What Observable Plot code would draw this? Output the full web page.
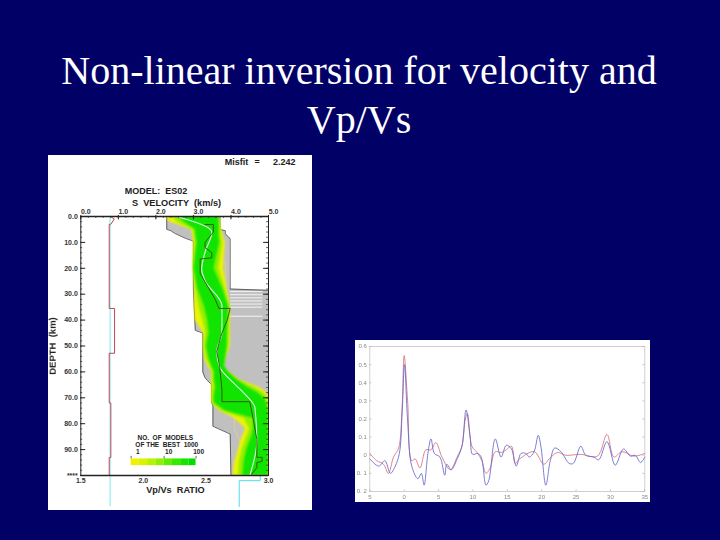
<!DOCTYPE html>
<html>
<head>
<meta charset="utf-8">
<script src="https://cdn.jsdelivr.net/npm/d3@7"></script>
<script src="https://cdn.jsdelivr.net/npm/@observablehq/plot@0.6"></script>
<style>
  html, body { margin: 0; padding: 0; background: #000066; overflow: hidden; }
  #page { position: relative; width: 720px; height: 540px; background: #000066; }
  #title {
    position: absolute; left: -1px; top: 46px; width: 720px; text-align: center;
    color: #fff; font-family: "Liberation Serif", serif; font-size: 40px; line-height: 49px;
  }
  #model, #wave { position: absolute; background: #fff; }
  #model { left: 48px; top: 155px; }
  #wave { left: 355px; top: 340px; }
  #model svg, #wave svg { display: block; filter: blur(0.45px); }
</style>
</head>
<body>
<div id="page">
  <div id="title">Non-linear inversion for velocity and<br>Vp/Vs</div>
  <div id="model"></div>
  <div id="wave"></div>
</div>
<script>
// grey envelope of all accepted models (km/s against depth)
const greyDepth = [0, 5, 5.5, 6.5, 7.5, 8.5, 9.5, 28, 28.5, 44, 45, 60, 62, 63, 65, 72, 73, 81, 82, 84, 100];
const greyLo = [2.29, 2.29, 2.4, 2.5, 2.65, 2.8, 3.0, 3.0, 3.0, 3.05, 3.25, 3.25, 3.3, 3.35, 3.49, 3.49, 3.52, 3.52, 3.67, 3.98, 4.0];
const greyHi = [3.71, 3.71, 3.85, 3.85, 3.9, 3.98, 3.98, 3.98, 5, 5, 5, 5, 5, 5, 5, 5, 5, 5, 5, 5, 5];
const streakDepths = [29, 30.2, 31.4, 32.6, 33.8, 35, 38.5];

// density bands of the best 1000 models
const bandDepth = [0, 2, 5, 8, 10, 20, 28, 35, 40, 45, 50, 55, 58, 60, 63, 66, 68, 70, 72, 75, 78, 82, 85, 90, 95, 100];
const yellowLo = [2.29, 2.35, 2.95, 3.0, 3.0, 3.0, 3.03, 3.03, 3.05, 3.27, 3.27, 3.3, 3.4, 3.5, 3.49, 3.49, 3.49, 3.49, 3.49, 3.7, 4.1, 4.4, 4.3, 4.2, 4.1, 4.05];
const yellowHi = [3.71, 3.71, 3.75, 3.8, 3.85, 3.8, 3.9, 3.98, 3.98, 3.98, 3.98, 3.85, 3.78, 3.9, 4.2, 4.75, 4.95, 5, 5, 5, 5, 5, 5, 5, 5, 5];
const limeLo = [2.45, 2.55, 3.0, 3.03, 3.05, 3.0, 3.06, 3.15, 3.25, 3.33, 3.29, 3.35, 3.45, 3.52, 3.52, 3.53, 3.52, 3.52, 3.52, 3.75, 4.35, 4.5, 4.42, 4.3, 4.22, 4.2];
const limeHi = [3.7, 3.7, 3.72, 3.74, 3.78, 3.68, 3.85, 3.97, 3.95, 3.95, 3.94, 3.85, 3.82, 3.93, 4.2, 4.62, 4.85, 4.98, 5, 5, 5, 5, 5, 5, 5, 5];
const greenLo = [2.6, 2.75, 3.05, 3.08, 3.1, 3.02, 3.12, 3.3, 3.38, 3.42, 3.35, 3.42, 3.5, 3.56, 3.56, 3.6, 3.57, 3.55, 3.56, 3.85, 4.6, 4.6, 4.55, 4.42, 4.35, 4.32];
const greenHi = [3.68, 3.68, 3.68, 3.68, 3.7, 3.55, 3.78, 3.94, 3.92, 3.9, 3.9, 3.85, 3.83, 3.93, 4.15, 4.45, 4.7, 4.88, 4.95, 5, 5, 5, 5, 5, 5, 5];

// best fitting model and stepped starting model
const bestVs = [2.56, 3.49, 3.31, 3.22, 3.31, 3.76, 3.76, 3.62, 3.71, 4.02, 4.38, 4.64, 4.69, 4.51];
const bestDepth = [0, 6, 13.8, 20.3, 24.8, 34.5, 44.9, 52, 58.4, 63.6, 68.7, 73.9, 86.8, 99.7];
const stepVs = [3.31, 3.53, 3.53, 3.31, 3.31, 3.49, 3.49, 3.18, 3.18, 3.18, 3.58, 3.68, 3.98, 3.9, 3.76, 3.62, 3.7, 3.76, 3.76, 4.5, 4.55, 4.69, 4.69, 4.83, 4.83, 4.69, 4.69, 4.55];
const stepDepth = [3.1, 3.1, 6, 10, 12, 14, 16, 16.4, 20, 22, 32, 35.5, 35.5, 40, 45, 52, 58, 67, 71.5, 71.5, 75, 86, 93, 93, 94.5, 95, 97, 99.5];

// Vp/Vs steps, plotted on the shared width of the frame
const ratioValue = [1.74, 1.767, 1.74, 1.727, 1.727, 1.77, 1.77, 1.727, 1.727, 1.74, 1.74, 1.727, 1.727];
const ratioDepth = [0, 1, 3, 3, 35.5, 35.5, 52.8, 52.8, 72, 72, 93, 93, 100];

// waveforms, right panel
const timeRed = [-5, -4, -3, -2.3, -1.55, -0.8, -0.3, 0, 0.5, 1.1, 1.6, 2.3, 3.15, 3.9, 4.6, 5.5, 6.7, 7.7, 8.4, 8.9, 9.2, 9.85, 10.6, 11.3, 11.9, 12.5, 13.25, 14.1, 14.85, 15.6, 16.15, 16.8, 18.9, 20.3, 21.1, 22.3, 23.5, 25.7, 28.1, 29.5, 30.5, 31.7, 33.4, 35];
const ampRed = [0.01, -0.03, -0.05, -0.1, -0.01, 0.04, 0.27, 0.55, 0.3, -0.03, -0.02, -0.07, 0.03, 0.03, 0.07, -0.01, -0.08, -0.01, 0.05, 0.2, 0.23, 0.05, 0.015, -0.03, -0.1, -0.07, 0.02, 0.015, 0.03, 0.05, -0.045, -0.02, 0.02, -0.05, -0.02, 0.015, 0, 0.005, -0.005, 0.115, -0.01, 0.02, -0.005, 0.01];
const timeBlue = [-5, -3.7, -2.8, -2, -1.3, -0.7, -0.3, 0.05, 0.5, 1.1, 2, 2.5, 2.9, 3.45, 3.9, 4.4, 5.2, 5.9, 6.2, 6.85, 7.7, 8.4, 9, 9.6, 9.95, 10.7, 11.2, 11.9, 12.3, 13.25, 14.1, 14.85, 15.6, 16.3, 17, 17.7, 18.2, 18.9, 19.5, 19.9, 20.6, 21.25, 21.9, 22.8, 24, 24.6, 25.7, 26.4, 27.6, 28.3, 29.5, 30.7, 31.9, 32.9, 33.6, 34.4, 35];
const ampBlue = [-0.02, -0.06, -0.03, -0.1, -0.06, 0.01, 0.23, 0.5, 0.19, -0.06, -0.13, -0.1, -0.165, 0.01, 0.09, 0.01, -0.01, -0.11, -0.05, -0.08, -0.02, 0.05, 0.25, 0.1, 0.005, 0.01, -0.01, -0.165, -0.14, 0.09, -0.01, 0.055, 0.035, -0.06, 0.01, 0.01, -0.01, 0.02, 0.11, 0.045, -0.165, -0.03, 0.04, 0.02, -0.045, -0.045, 0.05, 0, -0.01, -0.025, 0.075, -0.055, 0.035, -0.005, 0, -0.04, -0.01];
const waveTimeTicks = [-5, 0, 5, 10, 15, 20, 25, 30, 35];
const waveTimeLabels = ["5", "0", "5", "10", "15", "20", "25", "30", "35"];
const waveAmpTicks = [0.6, 0.5, 0.4, 0.3, 0.2, 0.1, 0, -0.1, -0.2];
const waveAmpLabels = ["0.6", "0.5", "0.4", "0.3", "0.2", "0.1", "0", "0. 1", "0. 2"];

// legend bar, yellow to green
const legendStops = [1.34, 1.56, 1.78, 2.0, 2.22, 2.44, 2.66, 2.88, 3.07];
const legendColors = ["#f0f000", "#d8f400", "#b4f400", "#8cf000", "#60ec00", "#38e800", "#18e400", "#00e000"];

const velocityTicks = [0, 1, 2, 3, 4, 5];
const ratioTicks = [1.5, 2, 2.5, 3];
const depthTicks = [0, 10, 20, 30, 40, 50, 60, 70, 80, 90, 100];

const band = (lo, hi) => bandDepth.map((d, i) => ({ d, lo: lo[i], hi: hi[i] }));
const path = (xs, ys) => xs.map((x, i) => ({ x, y: ys[i] }));
const ratioToX = (r) => (r - 1.5) / 1.5 * 5;
const sans = "'Liberation Sans', Arial, sans-serif";

const greyRows = greyDepth.map((d, i) => ({ d, lo: greyLo[i], hi: greyHi[i] }));
const label = (x, y, text, size, extra) =>
  Plot.text([text], Object.assign({ x: () => x, y: () => y, text: (t) => t, fontSize: size, fontWeight: 700, fill: "#222" }, extra));

const model = Plot.plot({
  width: 264,
  height: 355,
  marginLeft: 32.3,
  marginRight: 44,
  marginTop: 61,
  marginBottom: 35,
  style: { background: "#fff", fontFamily: sans, overflow: "visible" },
  x: { domain: [0, 5], axis: null },
  y: { domain: [0, 100], reverse: true, axis: null },
  marks: [
    // grey envelope
    Plot.areaX(greyRows, { x1: "lo", x2: "hi", y: "d", fill: "#c0c0c0", curve: "linear" }),
    Plot.ruleY(streakDepths, { x1: 3.99, x2: 4.85, stroke: "#f4f4f4", strokeWidth: 1 }),
    Plot.line(greyRows, { x: "lo", y: "d", stroke: "#333", strokeWidth: 0.7 }),
    Plot.line(greyRows.filter((r) => r.d <= 28.5), { x: "hi", y: "d", stroke: "#333", strokeWidth: 0.7 }),
    Plot.ruleX([5], { y1: 28.5, y2: 71, stroke: "#444", strokeWidth: 0.8 }),

    // pale outlines left inside the envelope
    Plot.line(path([3.62, 3.85, 3.85, 3.62, 3.62], [17.7, 17.7, 28, 28, 17.7]), { x: "x", y: "y", stroke: "#e8d870", strokeWidth: 0.7 }),
    Plot.line(path([4.09, 4.47, 4.47, 4.25, 4.09, 4.09], [77.5, 77.5, 81, 87, 82, 77.5]), { x: "x", y: "y", stroke: "#e8d870", strokeWidth: 0.7 }),

    // density bands, softened after the plot is built
    Plot.areaX(band(yellowLo, yellowHi), { x1: "lo", x2: "hi", y: "d", fill: "#ecf400", clip: "frame" }),
    Plot.areaX(band(limeLo, limeHi), { x1: "lo", x2: "hi", y: "d", fill: "#90f000", clip: "frame" }),
    Plot.areaX(band(greenLo, greenHi), { x1: "lo", x2: "hi", y: "d", fill: "#10e400", clip: "frame" }),

    // model lines
    Plot.line(path(bestVs, bestDepth), { x: "x", y: "y", stroke: "#d4ffe8", strokeWidth: 1.1, curve: "monotone-y" }),
    Plot.line(path(stepVs, stepDepth), { x: "x", y: "y", stroke: "#3f4a12", strokeWidth: 0.9 }),

    // Vp/Vs steps and the cyan reference lines
    Plot.ruleX([0.78], { y1: 0, y2: 112, stroke: "#7fe8f0", strokeWidth: 1 }),
    Plot.line(path(ratioValue.map(ratioToX), ratioDepth), { x: "x", y: "y", stroke: "#b84a50", strokeWidth: 1 }),
    Plot.line(path([4.22, 4.22, 4.78, 4.78], [112, 102, 102, 100]), { x: "x", y: "y", stroke: "#52dcef", strokeWidth: 1 }),

    // frame and inward ticks
    Plot.frame({ stroke: "#222", strokeWidth: 1 }),
    Plot.ruleY([0], { stroke: "#222", strokeWidth: 1.4 }),
    Plot.ruleY([100], { stroke: "#222", strokeWidth: 1.4 }),
    Plot.ruleX(d3.range(0, 5.01, 0.2), { y1: 0, y2: 0.7, stroke: "#222", strokeWidth: 0.8 }),
    Plot.ruleX(velocityTicks, { y1: -0.4, y2: 1.3, stroke: "#222", strokeWidth: 1 }),
    Plot.ruleY(d3.range(0, 100, 2), { x1: 0, x2: 0.05, stroke: "#222", strokeWidth: 0.7 }),
    Plot.ruleY(depthTicks, { x1: 0, x2: 0.13, stroke: "#222", strokeWidth: 1 }),
    Plot.ruleY(d3.range(0, 100, 2), { x1: 4.95, x2: 5, stroke: "#222", strokeWidth: 0.7 }),
    Plot.ruleY(depthTicks, { x1: 4.87, x2: 5, stroke: "#222", strokeWidth: 1 }),

    // tick labels
    Plot.text(velocityTicks, { x: (d) => d, y: () => -1.7, dx: 5, text: (d) => d.toFixed(1), fontSize: 7, fontWeight: 700, fill: "#333" }),
    Plot.text(ratioTicks, { x: ratioToX, y: () => 102, text: (d) => d.toFixed(1), fontSize: 7, fontWeight: 700, fill: "#333" }),
    Plot.text(depthTicks, { x: () => 0, y: (d) => d, dx: -3, textAnchor: "end", text: (d) => d === 100 ? "****" : d.toFixed(1), fontSize: 7, fontWeight: 700, fill: "#333" }),

    // titles
    label(4.15, -21, "Misfit", 9),
    label(4.7, -21, "=", 9),
    label(5.42, -21, "2.242", 9),
    label(2.0, -9.8, "MODEL:  ES02", 9),
    label(2.55, -5.1, "S  VELOCITY  (km/s)", 9.2),
    label(2.52, 105.8, "Vp/Vs  RATIO", 9.2),
    label(-0.75, 50, "DEPTH  (km)", 9.5, { rotate: -90 }),

    // legend
    label(2.25, 85.5, "NO.  OF  MODELS", 6.5),
    label(2.29, 88.2, "OF THE  BEST  1000", 6.5),
    Plot.text(["1", "10", "100"], { x: (d, i) => [1.52, 2.34, 3.14][i], y: () => 91, text: (d) => d, fontSize: 6.5, fontWeight: 700, fill: "#222" }),
    Plot.rect(legendColors, { x1: (d, i) => legendStops[i], x2: (d, i) => legendStops[i + 1], y1: () => 93.6, y2: () => 96.2, fill: (d) => d }),
    Plot.ruleX([1.34, 2.22, 3.07], { y1: 92.6, y2: 93.6, stroke: "#222", strokeWidth: 0.7 })
  ]
});
// the first area is the grey envelope, the rest are the density bands
d3.select(model).selectAll("g[aria-label='area']").filter((d, i) => i > 0).style("filter", "blur(1.3px)");
document.getElementById("model").append(model);

const wave = Plot.plot({
  width: 295,
  height: 162,
  marginLeft: 14.3,
  marginRight: 5.7,
  marginTop: 6,
  marginBottom: 11,
  style: { background: "#fff", fontFamily: sans, overflow: "visible" },
  x: { domain: [-5, 35], axis: null },
  y: { domain: [-0.2, 0.6], axis: null },
  marks: [
    Plot.frame({ stroke: "#c4c4c4", strokeWidth: 0.8 }),
    Plot.ruleX(waveTimeTicks, { y1: -0.2, y2: -0.19, stroke: "#aaa", strokeWidth: 0.6 }),
    Plot.ruleY(waveAmpTicks, { x1: -5, x2: -4.7, stroke: "#aaa", strokeWidth: 0.6 }),
    Plot.ruleY(waveAmpTicks, { x1: 34.7, x2: 35, stroke: "#aaa", strokeWidth: 0.6 }),
    Plot.line(path(timeRed, ampRed), { x: "x", y: "y", stroke: "#d8727a", strokeWidth: 1, strokeOpacity: 0.85, curve: "catmull-rom" }),
    Plot.line(path(timeBlue, ampBlue), { x: "x", y: "y", stroke: "#6468cc", strokeWidth: 1, strokeOpacity: 0.85, curve: "catmull-rom" }),
    Plot.text(waveTimeTicks, { x: (d) => d, y: () => -0.2, dy: 5.5, text: (d, i) => waveTimeLabels[i], fontSize: 6, fill: "#888" }),
    Plot.text(waveAmpTicks, { x: () => -5, y: (d) => d, dx: -3, textAnchor: "end", text: (d, i) => waveAmpLabels[i], fontSize: 6, fill: "#888" })
  ]
});
document.getElementById("wave").append(wave);
</script>
</body>
</html>
